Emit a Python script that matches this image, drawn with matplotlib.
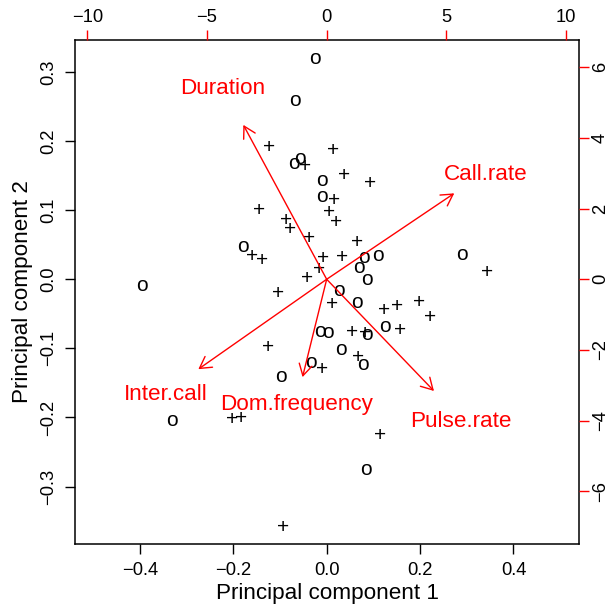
import matplotlib
matplotlib.use("Agg")
import matplotlib.pyplot as plt
from matplotlib.transforms import offset_copy

plt.rcParams['font.family'] = ['Liberation Sans', 'DejaVu Sans']

# Scores (lower/left axes): group "o"
o_x = [-0.0251, -0.0673, -0.0572, -0.0701, -0.0107, -0.0107, -0.1793, 0.0799, 0.1093,
       0.0681, 0.0857, -0.3951, 0.0270, 0.0643, -0.0144, 0.0028, 0.0857, 0.1256,
       0.0306, 0.0767, -0.0341, -0.0973, -0.3321, 0.0842, 0.2893]
o_y = [0.3190, 0.2581, 0.1749, 0.1677, 0.1423, 0.1202, 0.0468, 0.0316, 0.0345,
       0.0174, -0.0010, -0.0090, -0.0169, -0.0343, -0.0759, -0.0767, -0.0806, -0.0683,
       -0.1024, -0.1241, -0.1205, -0.1404, -0.2052, -0.2761, 0.0362]

# Scores: group "+"
p_x = [-0.1230, 0.0135, -0.0465, 0.0377, 0.0928, 0.0163, -0.1444, 0.0054, -0.0876,
       -0.0786, 0.0199, -0.0386, 0.0643, -0.1607, -0.1386, -0.0073, 0.0321, -0.0159,
       -0.0416, -0.1037, 0.0124, 0.1228, 0.1500, 0.1984, 0.2224, 0.0536, 0.0827,
       0.1571, -0.1264, 0.0664, -0.0096, -0.2036, -0.1836, 0.1142, -0.0943, 0.3428]
p_y = [0.1934, 0.1891, 0.1662, 0.1525, 0.1416, 0.1160, 0.1025, 0.0996, 0.0876,
       0.0743, 0.0851, 0.0617, 0.0559, 0.0362, 0.0304, 0.0323, 0.0347, 0.0171,
       0.0043, -0.0177, -0.0339, -0.0430, -0.0362, -0.0314, -0.0527, -0.0746, -0.0763,
       -0.0720, -0.0961, -0.1106, -0.1274, -0.2004, -0.1989, -0.2230, -0.3572, 0.0127]

# Loadings (upper/right axes)
var_names = ['Duration', 'Call.rate', 'Inter.call', 'Dom.frequency', 'Pulse.rate']
load_x = [-4.35, 6.66, -6.70, -1.26, 5.60]
load_y = [5.46, 3.04, -3.18, -3.46, -3.95]

xticks1 = [-0.4, -0.2, 0.0, 0.2, 0.4]
yticks1 = [-0.3, -0.2, -0.1, 0.0, 0.1, 0.2, 0.3]
xticks2 = [-10, -5, 0, 5, 10]
yticks2 = [-6, -4, -2, 0, 2, 4, 6]

W, H = 605, 609
fig = plt.figure(figsize=(W / 100, H / 100), dpi=100)
rect = [75 / W, (H - 544) / H, 504.3 / W, 504 / H]
ax = fig.add_axes(rect)
ax.set_xlim(-0.539, 0.541)
ax.set_ylim(-0.3832, 0.3465)

tick_fs = 13.2
lab_fs = 16.2
pt_fs = 15

tr_o = offset_copy(ax.transData, fig=fig, x=0, y=-0.26 * pt_fs, units='points')
tr_p = offset_copy(ax.transData, fig=fig, x=0, y=-0.35 * pt_fs, units='points')
for x, y in zip(o_x, o_y):
    ax.text(x, y, 'o', transform=tr_o, ha='center', va='baseline', fontsize=pt_fs, color='black')
for x, y in zip(p_x, p_y):
    ax.text(x, y, '+', transform=tr_p, ha='center', va='baseline', fontsize=pt_fs, color='black')

ax.set_xticks(xticks1)
ax.set_xticklabels(['\u22120.4', '\u22120.2', '0.0', '0.2', '0.4'])
ax.set_yticks(yticks1)
ax.set_yticklabels([('\u2212' + f'{abs(v):.1f}') if v < 0 else f'{v:.1f}' for v in yticks1],
                   rotation=90, va='center')
ax.tick_params(axis='both', direction='out', length=7, width=1, labelsize=tick_fs, pad=6, color='black')
for s in ax.spines.values():
    s.set_linewidth(1.1)
ax.set_xlabel('Principal component 1', fontsize=lab_fs, labelpad=3)
ax.set_ylabel('Principal component 2', fontsize=lab_fs, labelpad=5)

ax2 = fig.add_axes(rect, frameon=False)
ax2.set_xlim(-10.51, 10.55)
ax2.set_ylim(-7.49, 6.77)
ax2.xaxis.tick_top()
ax2.yaxis.tick_right()
ax2.set_xticks(xticks2)
ax2.set_xticklabels([('\u2212' + str(abs(v))) if v < 0 else str(v) for v in xticks2])
ax2.set_yticks(yticks2)
ax2.set_yticklabels([('\u2212' + str(abs(v))) if v < 0 else str(v) for v in yticks2],
                    rotation=90, va='center')
ax2.tick_params(axis='x', direction='out', length=7, width=1, labelsize=tick_fs, pad=3, color='red')
ax2.tick_params(axis='y', direction='out', length=7, width=1, labelsize=tick_fs, pad=2, color='red')
ax2.patch.set_visible(False)

tr_lab = offset_copy(ax2.transData, fig=fig, x=0, y=-0.358 * lab_fs, units='points')
for name, lx, ly in zip(var_names, load_x, load_y):
    ax2.annotate('', xy=(0.8 * lx, 0.8 * ly), xytext=(0, 0),
                 arrowprops=dict(arrowstyle='->,head_length=0.41,head_width=0.235',
                                 color='red', lw=1.0, shrinkA=0, shrinkB=0, mutation_scale=20))
    ax2.text(lx, ly, name, transform=tr_lab, color='red', fontsize=lab_fs, ha='center', va='baseline')

fig.savefig('out.png', dpi=100)
